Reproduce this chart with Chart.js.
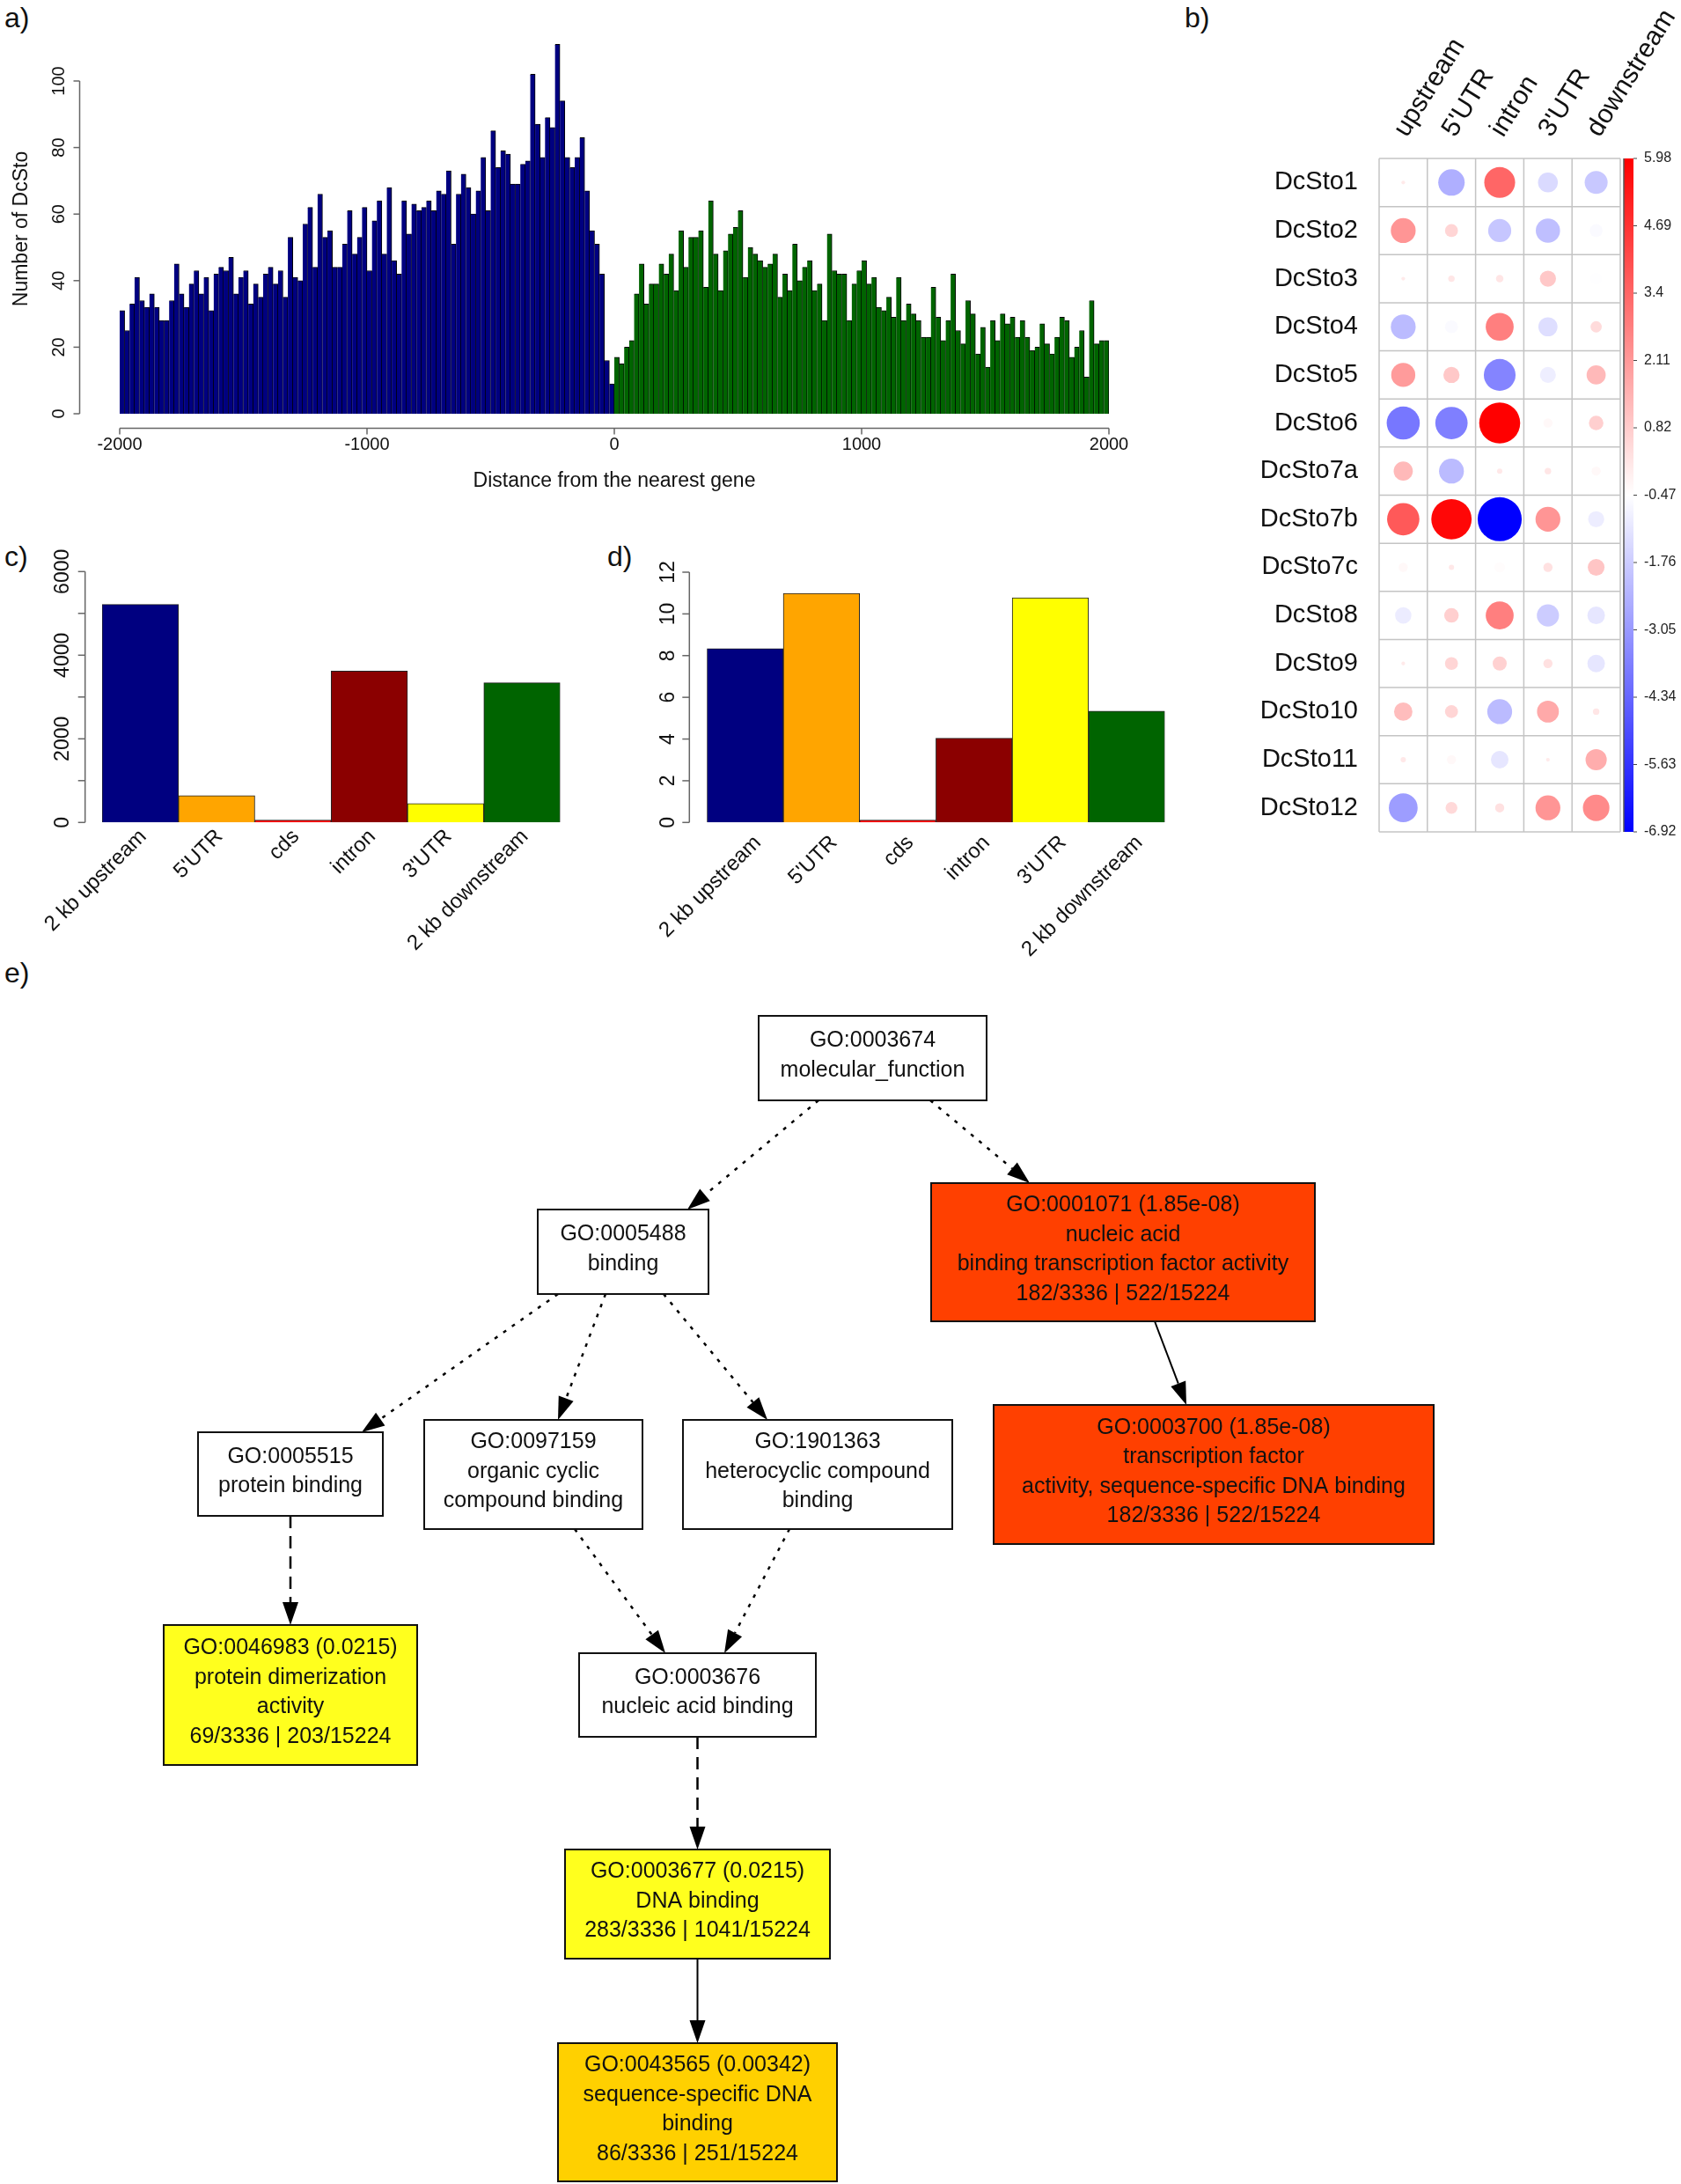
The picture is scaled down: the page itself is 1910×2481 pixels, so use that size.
<!DOCTYPE html>
<html>
<head>
<meta charset="utf-8">
<script src="https://cdn.jsdelivr.net/npm/chart.js@4.4.1/dist/chart.umd.min.js"></script>
<style>
  html, body { margin: 0; padding: 0; background: #fff; }
  body { width: 1910px; height: 2481px; position: relative; overflow: hidden; font-family: "Liberation Sans", Arial, sans-serif; }
  canvas { position: absolute; }
  .tag { position: absolute; font-size: 32px; line-height: 1; color: #111; }
</style>
</head>
<body>
<div class="tag" style="left:5px;top:4px">a)</div>
<div class="tag" style="left:1346px;top:4px">b)</div>
<div class="tag" style="left:5px;top:616px">c)</div>
<div class="tag" style="left:690px;top:616px">d)</div>
<div class="tag" style="left:5px;top:1089px">e)</div>

<canvas id="hist" style="left:0;top:0" width="1300" height="580"></canvas>
<canvas id="corr" style="left:1400px;top:0" width="510" height="980"></canvas>
<canvas id="counts" style="left:0;top:600px" width="660" height="500"></canvas>
<canvas id="density" style="left:660px;top:600px" width="690" height="500"></canvas>
<canvas id="go" style="left:0;top:1130px" width="1910" height="1351"></canvas>

<script>
const FONT = '"Liberation Sans", Arial, sans-serif'

// a) DcSto counts by distance to the nearest gene, 20 bp bins
const binWidth = 20
const upstreamCounts = [
    31, 25, 33, 41, 34, 32, 36, 32, 28, 28,
    34, 45, 36, 32, 39, 43, 36, 41, 31, 42,
    44, 43, 47, 36, 41, 43, 33, 39, 35, 42,
    44, 39, 43, 35, 53, 41, 40, 57, 62, 44,
    66, 53, 55, 44, 44, 51, 61, 48, 53, 62,
    43, 58, 64, 48, 68, 46, 42, 64, 54, 63,
    61, 62, 64, 61, 67, 66, 73, 51, 66, 72,
    68, 60, 67, 77, 61, 85, 74, 79, 78, 69,
    69, 75, 76, 102, 87, 77, 89, 86, 111, 94,
    77, 74, 77, 83, 67, 55, 51, 42, 16, 9
]
const downstreamCounts = [
    17, 15, 20, 22, 36, 45, 33, 39, 39, 45,
    42, 48, 37, 55, 44, 53, 53, 55, 38, 64,
    48, 37, 49, 54, 56, 61, 41, 50, 48, 46,
    44, 45, 48, 35, 42, 37, 51, 40, 44, 46,
    37, 39, 28, 54, 43, 42, 42, 28, 39, 43,
    46, 39, 41, 32, 31, 35, 29, 41, 28, 33,
    30, 28, 23, 23, 38, 29, 22, 28, 42, 25,
    21, 34, 30, 18, 26, 14, 28, 22, 30, 27,
    29, 23, 28, 23, 19, 20, 27, 21, 18, 23,
    29, 28, 17, 20, 25, 11, 34, 21, 22, 22
]
const histXTicks = [-2000, -1000, 0, 1000, 2000]
const histYTicks = [0, 20, 40, 60, 80, 100]

// b) enrichment of each DcSto family per gene region
const motifs = ['DcSto1', 'DcSto2', 'DcSto3', 'DcSto4', 'DcSto5', 'DcSto6', 'DcSto7a',
    'DcSto7b', 'DcSto7c', 'DcSto8', 'DcSto9', 'DcSto10', 'DcSto11', 'DcSto12']
const regions = ['upstream', "5'UTR", 'intron', "3'UTR", 'downstream']
const enrichUpstream = [0.05, 2.2, 0.05, -2.2, 2.07, -3.9, 1.3, 3.72, -0.3, -0.95, 0.05, 1.2, 0.1, -2.95]
const enrich5UTR = [-2.49, 0.6, 0.15, -0.6, 0.93, -3.72, -2.2, 5.8, 0.1, 0.75, 0.6, 0.6, -0.3, 0.5]
const enrichIntron = [3.39, -1.9, 0.2, 2.78, -3.59, 5.98, 0.1, -6.92, -0.4, 2.78, 0.7, -2.2, -1.1, 0.3]
const enrich3UTR = [-1.4, -2.1, 0.93, -1.3, -0.9, -0.3, 0.15, 2.2, 0.3, -1.75, 0.3, 1.7, 0.05, 2.2]
const enrichDownstream = [-1.87, -0.6, -0.5, 0.45, 1.3, 0.75, -0.3, -0.93, 1.0, -1.1, -1.1, 0.15, 1.6, 2.5]
const colorbarTicks = [5.98, 4.69, 3.4, 2.11, 0.82, -0.47, -1.76, -3.05, -4.34, -5.63, -6.92]

// c) d) DcSto per gene feature
const features = ['2 kb upstream', "5'UTR", 'cds', 'intron', "3'UTR", '2 kb downstream']
const featureColors = ['#000080', '#FFA500', '#FF0000', '#8B0000', '#FFFF00', '#006400']
const featureCounts = [5214, 639, 56, 3621, 450, 3340]
const featureDensity = [8.34, 10.98, 0.11, 4.04, 10.77, 5.34]
const countTicks = [0, 1000, 2000, 3000, 4000, 5000, 6000]
const countTickLabels = [0, 2000, 4000, 6000]
const densityTicks = [0, 2, 4, 6, 8, 10, 12]

// e) GO enrichment graph
const goIds = ['GO:0003674', 'GO:0005488', 'GO:0001071', 'GO:0005515', 'GO:0097159', 'GO:1901363',
    'GO:0003700', 'GO:0046983', 'GO:0003676', 'GO:0003677', 'GO:0043565']
const goTerms = ['molecular_function', 'binding', 'nucleic acid\nbinding transcription factor activity',
    'protein binding', 'organic cyclic\ncompound binding', 'heterocyclic compound\nbinding',
    'transcription factor\nactivity, sequence-specific DNA binding', 'protein dimerization\nactivity',
    'nucleic acid binding', 'DNA binding', 'sequence-specific DNA\nbinding']
const goPvalues = [null, null, '1.85e-08', null, null, null, '1.85e-08', '0.0215', null, '0.0215', '0.00342']
const goCounts = [null, null, '182/3336 | 522/15224', null, null, null, '182/3336 | 522/15224',
    '69/3336 | 203/15224', null, '283/3336 | 1041/15224', '86/3336 | 251/15224']
const goEdges = [[0, 1], [0, 2], [2, 6], [1, 3], [1, 4], [1, 5], [3, 7], [4, 8], [5, 8], [8, 9], [9, 10]]

// layout of the GO graph (page pixels), kept apart from the data
const goLayout = [
    { cx: 991.5, cy: 1202, w: 259, h: 96 },
    { cx: 708, cy: 1422, w: 194, h: 96 },
    { cx: 1276, cy: 1422.5, w: 436, h: 157 },
    { cx: 330, cy: 1674.5, w: 210, h: 95 },
    { cx: 606, cy: 1675, w: 248, h: 124 },
    { cx: 929, cy: 1675, w: 306, h: 124 },
    { cx: 1379, cy: 1675, w: 500, h: 158 },
    { cx: 330, cy: 1925.5, w: 288, h: 159 },
    { cx: 792.5, cy: 1925.5, w: 269, h: 95 },
    { cx: 792.5, cy: 2163, w: 301, h: 124 },
    { cx: 792.5, cy: 2399.5, w: 317, h: 157 }
]
const goEdgeAnchors = [[-61.5, 73], [65.5, -106], [36, -31], [-74, 81], [-20, 28], [46, -57],
    [0, 0], [47, -36.5], [-32, 30.5], [0, 0], [0, 0]]
const goEdgeStyles = ['dotted', 'dotted', 'solid', 'dotted', 'dotted', 'dotted',
    'dashed', 'dotted', 'dotted', 'dashed', 'solid']

function line(ctx, x1, y1, x2, y2) {
    ctx.beginPath()
    ctx.moveTo(x1, y1)
    ctx.lineTo(x2, y2)
    ctx.stroke()
}

// R style axes, drawn off the plot region
const rAxes = {
    id: 'rAxes',
    afterDraw: function(chart, args, o) {
        const ctx = chart.ctx
        ctx.save()
        ctx.lineWidth = 1.5
        ctx.strokeStyle = '#666'
        ctx.fillStyle = '#111'
        if (o.left) {
            const a = o.left
            const s = chart.scales.y
            line(ctx, a.x, s.getPixelForValue(a.ticks[0]), a.x, s.getPixelForValue(a.ticks[a.ticks.length - 1]))
            ctx.font = a.size + 'px ' + FONT
            ctx.textAlign = 'center'
            ctx.textBaseline = 'middle'
            a.ticks.forEach(function(t) {
                const py = s.getPixelForValue(t)
                line(ctx, a.x - a.tick, py, a.x, py)
                if (!a.labels || a.labels.indexOf(t) !== -1) {
                    ctx.save()
                    ctx.translate(a.labelX, py)
                    ctx.rotate(-Math.PI / 2)
                    ctx.fillText(String(t), 0, 0)
                    ctx.restore()
                }
            })
        }
        if (o.bottom) {
            const b = o.bottom
            const s = chart.scales.x
            line(ctx, s.getPixelForValue(b.ticks[0]), b.y, s.getPixelForValue(b.ticks[b.ticks.length - 1]), b.y)
            ctx.font = b.size + 'px ' + FONT
            ctx.textAlign = 'center'
            ctx.textBaseline = 'middle'
            b.ticks.forEach(function(t) {
                const px = s.getPixelForValue(t)
                line(ctx, px, b.y, px, b.y + b.tick)
                ctx.fillText(String(t), px, b.labelY)
            })
        }
        if (o.categories) {
            const c = o.categories
            const s = chart.scales.x
            const base = chart.scales.y.getPixelForValue(0)
            ctx.font = c.size + 'px ' + FONT
            ctx.textAlign = 'right'
            ctx.textBaseline = 'alphabetic'
            chart.data.labels.forEach(function(lab, i) {
                ctx.save()
                ctx.translate(s.getPixelForValue(i) + c.dx, base + c.dy)
                ctx.rotate(-Math.PI / 4)
                ctx.fillText(lab, 0, 0)
                ctx.restore()
            })
        }
        if (o.titles) {
            const t = o.titles
            ctx.font = t.size + 'px ' + FONT
            ctx.textAlign = 'center'
            ctx.textBaseline = 'middle'
            ctx.fillText(t.x, chart.scales.x.getPixelForValue(0), t.xY)
            ctx.save()
            ctx.translate(t.yX, t.yY)
            ctx.rotate(-Math.PI / 2)
            ctx.fillText(t.y, 0, 0)
            ctx.restore()
        }
        ctx.restore()
    }
}

const quiet = {
    responsive: false,
    animation: false,
    events: [],
    devicePixelRatio: 1
}

// a) histogram
const histData = upstreamCounts.map(function(v, i) {
    return { x: -2000 + binWidth * (i + 0.5), y: v }
}).concat(downstreamCounts.map(function(v, i) {
    return { x: binWidth * (i + 0.5), y: v }
}))

new Chart(document.getElementById('hist'), {
    type: 'bar',
    data: {
        datasets: [{
            data: histData,
            backgroundColor: function(c) { return c.raw && c.raw.x < 0 ? '#000080' : '#006400' },
            borderColor: '#000',
            borderWidth: { top: 1, right: 1, bottom: 0, left: 0 },
            borderSkipped: false,
            barPercentage: 1,
            categoryPercentage: 1
        }]
    },
    options: Object.assign({}, quiet, {
        layout: { padding: { left: 136, right: 40, top: 35.3, bottom: 110 } },
        scales: {
            x: { type: 'linear', min: -2000, max: 2000, offset: false, display: false },
            y: { min: 0, max: 115, display: false }
        },
        plugins: {
            legend: { display: false },
            tooltip: { enabled: false },
            rAxes: {
                left: { ticks: histYTicks, x: 90.5, tick: 7, labelX: 67, size: 20 },
                bottom: { ticks: histXTicks, y: 486.5, tick: 7, labelY: 505, size: 20 },
                titles: { size: 23, x: 'Distance from the nearest gene', xY: 547, y: 'Number of DcSto', yX: 25, yY: 260 }
            }
        }
    }),
    plugins: [rAxes]
})

// b) circle plot of enrichment
const regionValues = [enrichUpstream, enrich5UTR, enrichIntron, enrich3UTR, enrichDownstream]
const cbMin = colorbarTicks[colorbarTicks.length - 1]
const cbMax = colorbarTicks[0]
const absMax = Math.max(Math.abs(cbMin), Math.abs(cbMax))

function valueColor(v) {
    const t = (v - cbMin) / (cbMax - cbMin)
    if (t >= 0.5) {
        const g = Math.round(255 * (1 - (t - 0.5) / 0.5))
        return 'rgb(255,' + g + ',' + g + ')'
    }
    const b = Math.round(255 * (1 - (0.5 - t) / 0.5))
    return 'rgb(' + b + ',' + b + ',255)'
}

const corrPoints = []
motifs.forEach(function(m, r) {
    regionValues.forEach(function(vals, c) {
        corrPoints.push({ x: c + 1, y: r + 1, v: vals[r] })
    })
})

const corrDecor = {
    id: 'corrDecor',
    beforeDatasetsDraw: function(chart) {
        const ctx = chart.ctx
        const xs = chart.scales.x
        const ys = chart.scales.y
        const a = chart.chartArea
        ctx.save()
        ctx.strokeStyle = '#c4c4c4'
        ctx.lineWidth = 1.5
        for (let i = 0; i <= regions.length; i++) {
            const px = xs.getPixelForValue(i + 0.5)
            line(ctx, px, a.top, px, a.bottom)
        }
        for (let j = 0; j <= motifs.length; j++) {
            const py = ys.getPixelForValue(j + 0.5)
            line(ctx, a.left, py, a.right, py)
        }
        ctx.restore()
    },
    afterDraw: function(chart) {
        const ctx = chart.ctx
        const xs = chart.scales.x
        const ys = chart.scales.y
        const cb = chart.scales.cb
        const a = chart.chartArea
        ctx.save()
        ctx.fillStyle = '#111'
        ctx.font = '29px ' + FONT
        ctx.textAlign = 'right'
        ctx.textBaseline = 'middle'
        motifs.forEach(function(m, r) {
            ctx.fillText(m, a.left - 24, ys.getPixelForValue(r + 1))
        })
        ctx.font = '30px ' + FONT
        ctx.textAlign = 'left'
        ctx.textBaseline = 'alphabetic'
        regions.forEach(function(name, c) {
            ctx.save()
            ctx.translate(xs.getPixelForValue(c + 1) + 4, a.top - 23)
            ctx.rotate(-58 * Math.PI / 180)
            ctx.fillText(name, 0, 0)
            ctx.restore()
        })
        // colour bar
        const top = cb.getPixelForValue(cbMax)
        const bottom = cb.getPixelForValue(cbMin)
        const left = a.right + 4
        const grad = ctx.createLinearGradient(0, top, 0, bottom)
        grad.addColorStop(0, valueColor(cbMax))
        grad.addColorStop(0.5, valueColor((cbMax + cbMin) / 2))
        grad.addColorStop(1, valueColor(cbMin))
        ctx.fillStyle = grad
        ctx.fillRect(left, top, 11, bottom - top)
        ctx.strokeStyle = '#555'
        ctx.lineWidth = 1.5
        line(ctx, left, top, left, bottom)
        ctx.strokeStyle = '#444'
        ctx.lineWidth = 1
        ctx.fillStyle = '#222'
        ctx.font = '16px ' + FONT
        ctx.textBaseline = 'middle'
        colorbarTicks.forEach(function(t) {
            const py = cb.getPixelForValue(t)
            line(ctx, left + 11, py, left + 15, py)
            ctx.fillText(String(t), left + 23, py)
        })
        ctx.restore()
    }
}

const corrChart = new Chart(document.getElementById('corr'), {
    type: 'bubble',
    data: {
        datasets: [{
            data: corrPoints,
            backgroundColor: corrPoints.map(function(p) { return valueColor(p.v) }),
            borderWidth: 0,
            clip: false
        }]
    },
    options: Object.assign({}, quiet, {
        layout: { padding: { left: 167, right: 69, top: 180, bottom: 35 } },
        scales: {
            x: { type: 'linear', min: 0.5, max: regions.length + 0.5, display: false },
            y: { type: 'linear', min: 0.5, max: motifs.length + 0.5, reverse: true, display: false },
            cb: { type: 'linear', axis: 'y', min: cbMin, max: cbMax, display: false }
        },
        plugins: { legend: { display: false }, tooltip: { enabled: false } }
    }),
    plugins: [corrDecor]
})

// circle area follows |value|, the largest circle nearly fills a cell
const cellPx = corrChart.scales.x.getPixelForValue(2) - corrChart.scales.x.getPixelForValue(1)
corrPoints.forEach(function(p) {
    p.r = 0.457 * cellPx * Math.sqrt(Math.abs(p.v) / absMax)
})
corrChart.update()

// c) and d) bar charts
function featureChart(id, values, max, padding, axis) {
    return new Chart(document.getElementById(id), {
        type: 'bar',
        data: {
            labels: features,
            datasets: [{
                data: values,
                backgroundColor: featureColors,
                borderColor: '#222',
                borderWidth: 1,
                barPercentage: 1,
                categoryPercentage: 1
            }]
        },
        options: Object.assign({}, quiet, {
            layout: { padding: padding },
            scales: {
                x: { display: false },
                y: { min: 0, max: max, display: false }
            },
            plugins: {
                legend: { display: false },
                tooltip: { enabled: false },
                rAxes: axis
            }
        }),
        plugins: [rAxes]
    })
}

featureChart('counts', featureCounts, 6000,
    { left: 116, right: 23.5, top: 49.3, bottom: 165.7 },
    {
        left: { ticks: countTicks, labels: countTickLabels, x: 96.7, tick: 8, labelX: 71.7, size: 23 },
        categories: { size: 24, dx: 8, dy: 17 }
    })

featureChart('density', featureDensity, 12,
    { left: 143.3, right: 26.5, top: 50, bottom: 165.7 },
    {
        left: { ticks: densityTicks, x: 123.3, tick: 8, labelX: 100, size: 23 },
        categories: { size: 24, dx: 19, dy: 24 }
    })

// e) GO graph
function goFill(p) {
    if (p === null) return '#ffffff'
    const v = parseFloat(p)
    if (v < 1e-6) return '#FF4000'
    if (v < 0.01) return '#FFD000'
    return '#FFFF1E'
}

const goGraph = {
    id: 'goGraph',
    afterDatasetsDraw: function(chart) {
        const ctx = chart.ctx
        const pts = chart.getDatasetMeta(0).data
        const xs = chart.scales.x
        const ys = chart.scales.y
        function box(i) {
            const L = goLayout[i]
            return {
                x: pts[i].x,
                y: pts[i].y,
                w: Math.abs(xs.getPixelForValue(L.cx + L.w / 2) - xs.getPixelForValue(L.cx - L.w / 2)),
                h: Math.abs(ys.getPixelForValue(L.cy + L.h / 2) - ys.getPixelForValue(L.cy - L.h / 2))
            }
        }
        ctx.save()
        goEdges.forEach(function(e, k) {
            const A = box(e[0])
            const B = box(e[1])
            const x1 = A.x + goEdgeAnchors[k][0]
            const y1 = A.y + A.h / 2
            const x2 = B.x + goEdgeAnchors[k][1]
            const y2 = B.y - B.h / 2
            const ang = Math.atan2(y2 - y1, x2 - x1)
            const len = 26
            const hw = 9
            const bx = x2 - len * Math.cos(ang)
            const by = y2 - len * Math.sin(ang)
            const style = goEdgeStyles[k]
            ctx.strokeStyle = '#000'
            ctx.lineWidth = style === 'solid' ? 2 : 2.5
            ctx.setLineDash(style === 'dotted' ? [4, 8] : style === 'dashed' ? [14, 9] : [])
            line(ctx, x1, y1, bx, by)
            ctx.setLineDash([])
            ctx.fillStyle = '#000'
            ctx.beginPath()
            ctx.moveTo(x2, y2)
            ctx.lineTo(bx - hw * Math.sin(ang), by + hw * Math.cos(ang))
            ctx.lineTo(bx + hw * Math.sin(ang), by - hw * Math.cos(ang))
            ctx.closePath()
            ctx.fill()
        })
        goIds.forEach(function(id, i) {
            const B = box(i)
            const x0 = B.x - B.w / 2
            const y0 = B.y - B.h / 2
            ctx.fillStyle = goFill(goPvalues[i])
            ctx.fillRect(x0, y0, B.w, B.h)
            ctx.strokeStyle = '#111'
            ctx.lineWidth = 2
            ctx.strokeRect(x0, y0, B.w, B.h)
            const lines = [goPvalues[i] ? id + ' (' + goPvalues[i] + ')' : id]
                .concat(goTerms[i].split('\n'))
                .concat(goCounts[i] ? [goCounts[i]] : [])
            const lh = 33.5
            ctx.fillStyle = '#111'
            ctx.font = '25px ' + FONT
            ctx.textAlign = 'center'
            ctx.textBaseline = 'middle'
            lines.forEach(function(t, j) {
                ctx.fillText(t, B.x, B.y - 3 + (j - (lines.length - 1) / 2) * lh)
            })
        })
        ctx.restore()
    }
}

new Chart(document.getElementById('go'), {
    type: 'scatter',
    data: {
        datasets: [{
            data: goLayout.map(function(L) { return { x: L.cx, y: L.cy } }),
            pointRadius: 0
        }]
    },
    options: Object.assign({}, quiet, {
        layout: { padding: 0 },
        scales: {
            x: { type: 'linear', min: 0, max: 1910, display: false },
            y: { type: 'linear', min: 1130, max: 2481, reverse: true, display: false }
        },
        plugins: { legend: { display: false }, tooltip: { enabled: false } }
    }),
    plugins: [goGraph]
})
</script>
</body>
</html>
